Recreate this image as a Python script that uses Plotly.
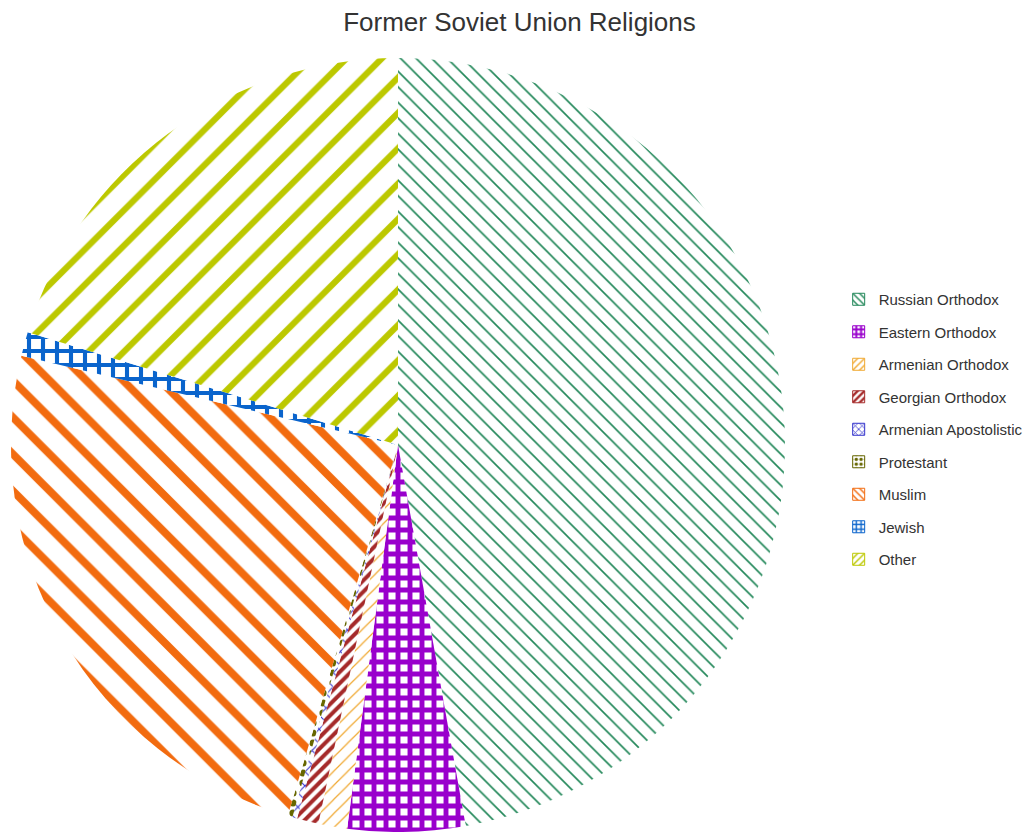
import plotly.graph_objects as go

labels = ["Russian Orthodox", "Eastern Orthodox", "Armenian Orthodox", "Georgian Orthodox",
          "Armenian Apostolistic", "Protestant", "Muslim", "Jewish", "Other"]
values = [47.2, 4.9, 1.2, 0.9, 0.2, 0.2, 24.1, 1.0, 20.3]
colors = ["#23885a", "#9900cc", "#f0a830", "#a52a2a", "#3333cc", "#666600", "#f26b0f", "#0a64cc", "#bcc800"]
shapes = ["\\", "+", "/", "/", "x", ".", "\\", "+", "/"]
sizes = [11, 12, 10, 8, 10, 10, 26, 14, 25]
solidity = [0.15, 0.65, 0.12, 0.5, 0.2, 0.4, 0.3, 0.5, 0.25]

fig = go.Figure()
fig.add_trace(go.Pie(
    labels=labels, values=values, sort=False, direction="clockwise", rotation=0,
    textinfo="none", hoverinfo="label+value", showlegend=False,
    marker=dict(colors=colors, line=dict(width=0),
                pattern=dict(shape=shapes, fgcolor=colors, bgcolor="white",
                             size=sizes, solidity=solidity, fillmode="replace")),
    domain=dict(x=[0, 780/1023], y=[0, 1]),
))

# legend entries (one per slice) with patterned square symbols
for lab, col, shp, sol in zip(labels, colors, shapes, solidity):
    fig.add_trace(go.Bar(
        x=[None], y=[None], name=lab, legendgroup=lab, showlegend=True,
        marker=dict(color=col, line=dict(color=col, width=1),
                    pattern=dict(shape=shp, fgcolor=col, bgcolor="white",
                                 size=6, solidity=max(sol, 0.3), fillmode="replace")),
        hoverinfo="skip",
    ))

fig.update_layout(
    width=1023, height=824, autosize=False,
    margin=dict(l=0, r=0, t=50, b=0),
    paper_bgcolor="white", plot_bgcolor="white",
    xaxis=dict(visible=False), yaxis=dict(visible=False),
    font=dict(family="Liberation Sans, Arial, sans-serif", color="#333333"),
    title=dict(text="Former Soviet Union Religions", x=0.5, xanchor="center",
               y=1 - 14/824, yanchor="middle", font=dict(size=26, color="#333333")),
    legend=dict(x=0.812, xanchor="left", y=0.52, yanchor="middle",
                font=dict(size=15, color="#333333"), tracegroupgap=10,
                traceorder="grouped"),
)

fig.write_html("out.html")
